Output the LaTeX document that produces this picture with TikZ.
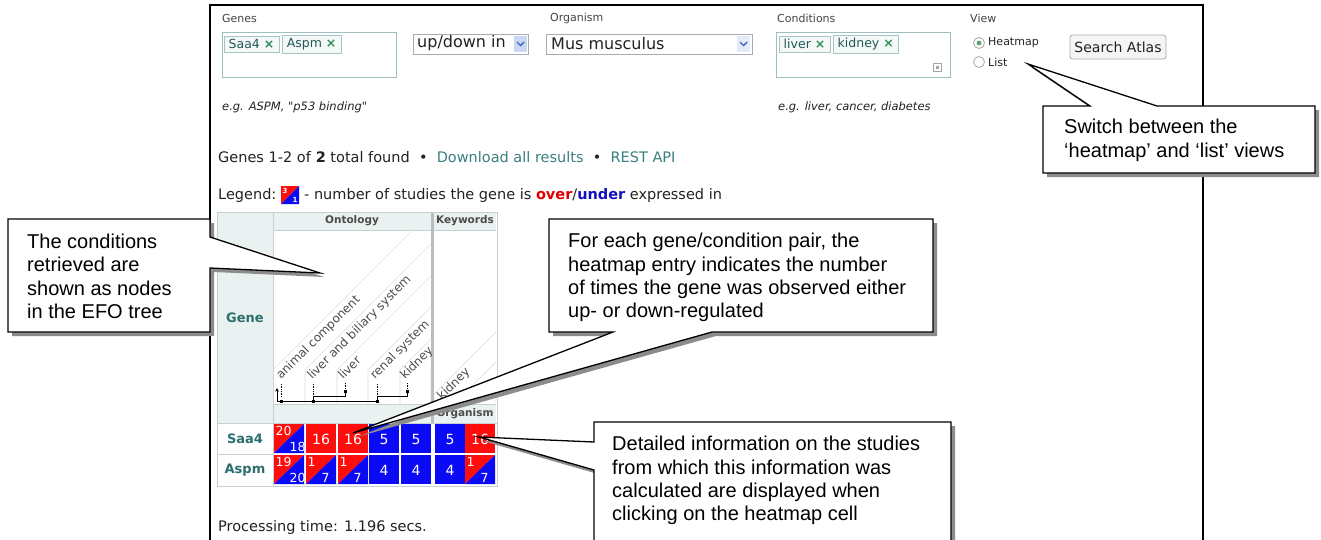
\documentclass[tikz,border=0pt]{standalone}
\usepackage{fontspec}
\setmainfont{Liberation Sans}
\newfontfamily\vfont{DejaVu Sans}
\usetikzlibrary{arrows.meta}
\definecolor{tealtxt}{HTML}{2B6E6E}
\definecolor{linkc}{HTML}{3B7F80}
\definecolor{hmr}{HTML}{FF0D0D}
\definecolor{hmb}{HTML}{0A0AF5}
\definecolor{hbg}{HTML}{EAF1F1}
\definecolor{tbc}{HTML}{C5D0D0}
\definecolor{boxb}{HTML}{9DBFBF}
\definecolor{tokb}{HTML}{A9C4C4}
\definecolor{tokf}{HTML}{F4F9F8}
\definecolor{xgreen}{HTML}{2E8B57}
\definecolor{shgray}{HTML}{8C8C8C}
\definecolor{uitext}{HTML}{222222}
\definecolor{lbltext}{HTML}{444444}
\definecolor{selb}{HTML}{A5ACB2}
\definecolor{ddbg}{HTML}{C9D8F2}
\definecolor{chevc}{HTML}{3D66B8}
\definecolor{overred}{HTML}{E00000}
\definecolor{underblue}{HTML}{1010C0}
\definecolor{seprc}{HTML}{B8BEBE}
\tikzset{
  ui/.style={font=\vfont\fontsize{14.5}{17}\selectfont, inner sep=0, anchor=west, text=uitext},
  lbl/.style={font=\vfont\fontsize{11}{13}\selectfont, inner sep=0, anchor=west, text=lbltext},
  egtxt/.style={font=\vfont\itshape\fontsize{11.5}{13}\selectfont, inner sep=0, anchor=west, text=uitext},
  seltxt/.style={font=\vfont\fontsize{16}{18}\selectfont, inner sep=0, anchor=west, text=uitext},
  tok/.style={draw=tokb, fill=tokf, inner xsep=4.5, inner ysep=3, anchor=west, font=\vfont\fontsize{12.5}{14}\selectfont, text=tealtxt!80!black},
  inbox/.style={draw=boxb, line width=0.8pt},
  selbox/.style={draw=selb, line width=0.8pt, fill=white},
  chev/.style={draw=chevc, line width=1.4pt},
  tb/.style={draw=tbc, line width=0.6pt},
  gridl/.style={draw=gray!28, line width=0.6pt},
  hdr/.style={font=\vfont\bfseries\fontsize{10.5}{12}\selectfont, inner sep=0, text=black!70},
  genelbl/.style={font=\vfont\bfseries\fontsize{13}{15}\selectfont, inner sep=0, text=tealtxt},
  tlab/.style={font=\vfont\fontsize{12}{14}\selectfont, inner sep=0, text=black!70, rotate=45, anchor=base west},
  hmnum/.style={font=\vfont\fontsize{14}{16}\selectfont, inner sep=0, text=white},
  hmsmall/.style={font=\vfont\fontsize{12.5}{14}\selectfont, inner sep=0, text=white},
  callout/.style={draw=black, line width=1.3pt, fill=white, line join=miter,
    preaction={fill=shgray, transform canvas={shift={(4,4)}}}},
  ctext/.style={font=\fontsize{20}{23.4}\selectfont, inner sep=0, anchor=north west, align=left, text=black}
}
\newcommand\hmR[3]{\fill[hmr] (#1,#2) rectangle ++(30,29);
  \node[hmnum] (cR#1-#2) at (#1+15,#2+15) {#3};}
\newcommand\hmB[3]{\fill[hmb] (#1,#2) rectangle ++(30,29);
  \node[hmnum] (cB#1-#2) at (#1+15,#2+15) {#3};}
\newcommand\hmS[4]{\fill[hmr] (#1,#2) -- ++(30,0) -- ++(-30,29) -- cycle;
  \fill[hmb] (#1+30,#2) -- ++(0,29) -- ++(-30,0) -- cycle;
  \begin{scope}
  \clip (#1,#2) rectangle ++(30,29);
  \node[hmsmall, anchor=base west] (cSa#1-#2) at (#1+1.5,#2+11) {#3};
  \node[hmsmall, anchor=base west] (cSb#1-#2) at (#1+15.5,#2+27) {#4};
  \end{scope}}
\begin{document}
\begin{tikzpicture}[x=1pt,y=-1pt]
\useasboundingbox (0,0) rectangle (1321,539);
\fill[white] (0,0) rectangle (1321,539);

% ---------- screenshot frame ----------
\draw[line width=1.8pt] (210,545) -- (210,5) -- (1203,5) -- (1203,545);

% ---------- search form ----------
\node[lbl] (lgenes) at (222,18) {Genes};
\node[lbl] (lorg) at (550,18) {Organism};
\node[lbl] (lcond) at (777,18) {Conditions};
\node[lbl] (lview) at (970,18) {View};

\draw[inbox] (222,32) rectangle (396,77);
\node[tok] (tsaa) at (224,44) {Saa4 \textcolor{xgreen}{\textbf{×}}};
\node[tok] (taspm) at ([xshift=3pt]tsaa.east) {Aspm \textcolor{xgreen}{\textbf{×}}};

\draw[selbox] (413,34) rectangle (528,54);
\node[seltxt] (updown) at (417,43.5) {up/down in};
\fill[ddbg] (514,36) rectangle (527,52);
\draw[chev] (517,42) -- (520.5,45.5) -- (524,42);

\draw[selbox] (546,34) rectangle (752,54);
\node[seltxt] (orgsel) at (551,43.5) {Mus musculus};
\fill[ddbg!50] (737,36) rectangle (750,52);
\draw[chev] (740,42) -- (743.5,45.5) -- (747,42);

\draw[inbox] (776,32) rectangle (950,77);
\node[tok] (tliver) at (779,44) {liver \textcolor{xgreen}{\textbf{×}}};
\node[tok] (tkid) at ([xshift=3pt]tliver.east) {kidney \textcolor{xgreen}{\textbf{×}}};
\draw[gray!70, line width=0.6pt] (933,63) rectangle (941,71);
\fill[gray!70] (935.5,65.5) rectangle (938.5,68.5);

\draw[gray!70, line width=0.8pt, fill=white] (979,43) circle (5.5);
\fill[xgreen!80] (979,43) circle (2.4);
\draw[gray!70, line width=0.8pt, fill=white] (979,62) circle (5.5);
\node[lbl, text=uitext] (rheat) at (988,43) {Heatmap};
\node[lbl, text=uitext] (rlist) at (988,62) {List};

\draw[gray!65, line width=0.8pt, fill=gray!8, rounded corners=2.5pt] (1070,35) rectangle (1166,59);
\node[font=\vfont\fontsize{14}{16}\selectfont, inner sep=0, text=uitext] (search) at (1118,47) {Search Atlas};

\node[egtxt] (eg1) at (222,107) {e.g. ASPM, "p53 binding"};
\node[egtxt] (eg2) at (778,107) {e.g. liver, cancer, diabetes};

% ---------- results text ----------
\node[ui] (found) at (218,157) {Genes 1-2 of \textbf{2} total found ~•~ \textcolor{linkc}{Download all results} ~•~ \textcolor{linkc}{REST API}};
\node[ui] (legend) at (218,195) {Legend:};
\fill[hmr] (281,186) -- (299,186) -- (281,204) -- cycle;
\fill[hmb] (299,186) -- (299,204) -- (281,204) -- cycle;
\node[font=\vfont\bfseries\fontsize{7}{8}\selectfont, text=white, inner sep=0] (lg3) at (285,190.5) {3};
\node[font=\vfont\bfseries\fontsize{7}{8}\selectfont, text=white, inner sep=0] (lg1) at (295,199.5) {1};
\node[ui] (legtxt) at (304,195) {- number of studies the gene is \textcolor{overred}{\textbf{over}}/\textcolor{underblue}{\textbf{under}} expressed in};

% ---------- heatmap table ----------
\fill[hbg] (217,212) rectangle (273,423);
\fill[hbg] (273,212) rectangle (431,230);
\fill[hbg] (434,212) rectangle (496,230);
\fill[hbg] (273,404) rectangle (431,423);
\fill[hbg] (434,404) rectangle (496,423);
\draw[tb] (217,212) rectangle (273,423);
\draw[tb] (273,230) -- (431,230);
\draw[tb] (434,230) -- (496,230);
\draw[tb] (273,404) -- (496,404);
\draw[tb] (217,423) -- (497,423);
\draw[tb] (217,454) -- (273,454);
\draw[tb] (273,212) -- (273,486);
\fill[seprc] (431,212) rectangle (434,423);
\draw[tb] (217,212) rectangle (497,486);
\node[hdr] (ont) at (352,221) {Ontology};
\node[hdr] (kw) at (465,221) {Keywords};
\node[hdr] (orgh) at (465,414) {Organism};
\node[genelbl] (gene) at (245,318) {Gene};
\node[genelbl] (saa4) at (245,439) {Saa4};
\node[genelbl] (aspm) at (245,470) {Aspm};

% ontology tree stripes
\begin{scope}
\clip (273,230) rectangle (431,404);
\foreach \xb in {273,305,337,368,400,431} {
  \draw[gridl] (\xb,404) -- (\xb,370) -- ++(170,-170);
}
\end{scope}
\begin{scope}
\clip (434,230) rectangle (496,404);
\foreach \xb in {434,464,496} {
  \draw[gridl] (\xb,404) -- (\xb,394) -- ++(170,-170);
}
\end{scope}
\node[tlab] (lac) at (281,380) {animal component};
\node[tlab] (llb) at (312,380) {liver and biliary system};
\node[tlab] (lli) at (343,380) {liver};
\node[tlab] (lrs) at (375,380) {renal system};
\node[tlab] (lki) at (405,380) {kidney};
\node[tlab] (lkw) at (442,401) {kidney};

% tree connectors
\draw[line width=0.9pt, -{Stealth[length=3.5pt,width=3.5pt]}] (277,401) -- (277,388);
\draw[line width=0.9pt] (277,401) -- (377,401);
\draw[line width=0.9pt] (313,401) -- (313,396) -- (345,396) -- (345,391);
\draw[line width=0.9pt] (377,401) -- (377,396) -- (407,396) -- (407,391);
\draw[densely dotted, line width=0.7pt] (281,384) -- (281,397);
\draw[densely dotted, line width=0.7pt] (313,384) -- (313,395);
\draw[densely dotted, line width=0.7pt] (377,384) -- (377,395);
\draw[densely dotted, line width=0.7pt] (345,383) -- (345,390);
\draw[densely dotted, line width=0.7pt] (407,383) -- (407,390);
\fill (343.5,389.5) rectangle (346.5,392.5);
\fill (405.5,389.5) rectangle (408.5,392.5);
\fill (311.5,399.5) rectangle (314.5,402.5);
\fill (375.5,399.5) rectangle (378.5,402.5);
\fill (279.5,399.5) rectangle (282.5,402.5);

% heatmap cells
\hmS{274}{424}{20}{18}
\hmR{306}{424}{16}
\hmR{338}{424}{16}
\hmB{369}{424}{5}
\hmB{401}{424}{5}
\hmB{435}{424}{5}
\hmR{465}{424}{16}
\hmS{274}{455}{19}{20}
\hmS{306}{455}{1}{7}
\hmS{338}{455}{1}{7}
\hmB{369}{455}{4}
\hmB{401}{455}{4}
\hmB{435}{455}{4}
\hmS{465}{455}{1}{7}

\node[ui] (proc) at (218,527) {Processing time: 1.196 secs.};

% ---------- callouts ----------
\coordinate (tipA) at (320,273);
\coordinate (tipB) at (353,433);
\coordinate (tipC) at (479,437);
\coordinate (tipD) at (1028,64);
\draw[callout] (8,219) -- (210,219) -- (210,237) -- (tipA) -- (210,268) -- (210,332) -- (8,332) -- cycle;
\draw[callout] (549,219) -- (933,219) -- (933,332) -- (712,332) -- (tipB) -- (613,332) -- (549,332) -- cycle;
\draw[callout] (594,422) -- (951,422) -- (951,570) -- (594,570) -- (594,470) -- (tipC) -- (594,442) -- cycle;
\draw[callout] (1043,106) -- (1090,106) -- (tipD) -- (1157,106) -- (1315,106) -- (1315,173) -- (1043,173) -- cycle;

\node[ctext] (txtA) at (27,233.5) {The conditions\\retrieved are\\shown as nodes\\in the EFO tree};
\node[ctext] (txtB) at (568,233) {For each gene/condition pair, the\\heatmap entry indicates the number\\of times the gene was observed either\\up- or down-regulated};
\node[ctext] (txtC) at (612,436) {Detailed information on the studies\\from which this information was\\calculated are displayed when\\clicking on the heatmap cell};
\node[ctext] (txtD) at (1064,119) {Switch between the\\‘heatmap’ and ‘list’ views};
\end{tikzpicture}
\end{document}
